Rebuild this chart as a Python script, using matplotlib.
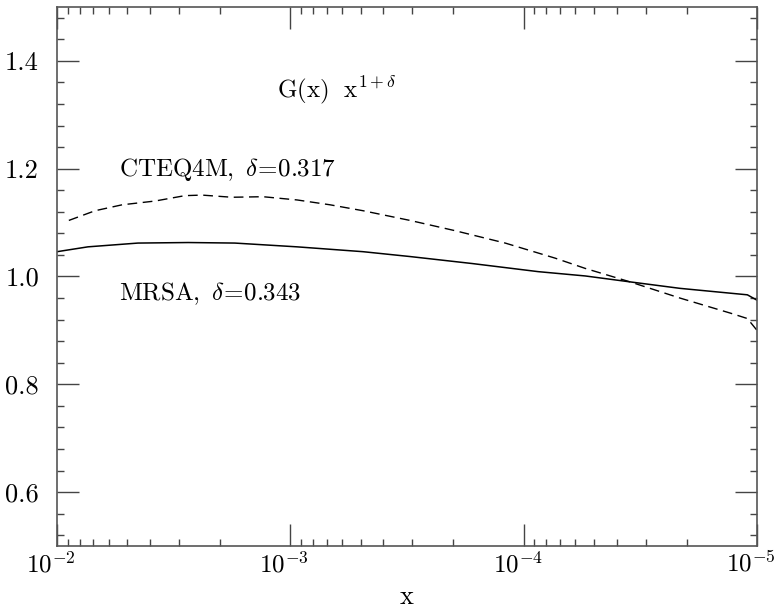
import numpy as np
import matplotlib
matplotlib.use("Agg")
import matplotlib.pyplot as plt
import matplotlib.transforms as mtransforms
from matplotlib.ticker import LogLocator, MultipleLocator, FormatStrFormatter, NullFormatter

plt.rcParams['mathtext.fontset'] = 'cm'
plt.rcParams['font.family'] = ['cmr10', 'DejaVu Serif']
plt.rcParams['axes.formatter.use_mathtext'] = True

# CTEQ4M, delta = 0.317 (dashed)
x_cteq = [8.9e-3, 6.87e-3, 5.26e-3, 3.8e-3, 2.83e-3, 2.39e-3, 1.78e-3, 1.31e-3,
          9.36e-4, 6.76e-4, 4.88e-4, 3.07e-4, 1.97e-4, 1.20e-4, 7.33e-5, 5.45e-5,
          3.50e-5, 2.14e-5, 1.30e-5, 1.10e-5, 1.0e-5]
g_cteq = [1.104, 1.122, 1.133, 1.140, 1.150, 1.151, 1.147, 1.148,
          1.142, 1.133, 1.122, 1.104, 1.085, 1.062, 1.034, 1.015,
          0.990, 0.960, 0.932, 0.922, 0.900]

# MRSA, delta = 0.343 (solid)
x_mrsa = [1.0e-2, 7.37e-3, 4.50e-3, 2.74e-3, 1.73e-3, 9.36e-4, 4.88e-4, 3.07e-4,
          1.66e-4, 8.67e-5, 5.45e-5, 3.50e-5, 2.14e-5, 1.30e-5, 1.10e-5, 1.0e-5]
g_mrsa = [1.046, 1.055, 1.062, 1.063, 1.062, 1.055, 1.046, 1.037,
          1.024, 1.009, 1.001, 0.990, 0.978, 0.969, 0.966, 0.956]

fig = plt.figure(figsize=(7.79, 6.07), dpi=100)
ax = fig.add_axes([0.0732, 0.1005, 0.8986, 0.888])

ax.plot(x_mrsa, g_mrsa, color='black', lw=1.1)
ax.plot(x_cteq, g_cteq, color='black', lw=1.0, dashes=(7, 4))

ax.set_xscale('log')
ax.set_xlim(1e-2, 1e-5)
ax.set_ylim(0.5, 1.5)

ax.xaxis.set_major_locator(LogLocator(base=10, numticks=10))
ax.xaxis.set_minor_locator(LogLocator(base=10, subs=np.arange(2, 10), numticks=20))
ax.xaxis.set_minor_formatter(NullFormatter())
ax.yaxis.set_major_locator(MultipleLocator(0.2))
ax.yaxis.set_minor_locator(MultipleLocator(0.04))
ax.yaxis.set_major_formatter(FormatStrFormatter('%.1f'))

ax.tick_params(which='both', direction='in', top=True, right=True,
               color='#444444')
ax.tick_params(which='major', length=16, width=1.0)
ax.tick_params(which='minor', length=5, width=1.0)
ax.tick_params(axis='x', which='major', labelsize=18, pad=4)
ax.tick_params(axis='y', which='major', labelsize=19, pad=13)
for s in ax.spines.values():
    s.set_color('#555555')
    s.set_linewidth(1.2)

# the decade labels sit a little left of their ticks
shift = mtransforms.ScaledTranslation(-6 / 100, 0, fig.dpi_scale_trans)
for lab in ax.get_xticklabels():
    lab.set_transform(lab.get_transform() + shift)

ax.set_xlabel(r'$\mathrm{x}$', fontsize=19)
ax.xaxis.set_label_coords(0.5, -0.072)

ax.text(6.3e-4, 1.346, r'$\mathrm{G(x)\ \ x}^{1+\delta}$', fontsize=18,
        ha='center', va='center')
ax.text(5.4e-3, 1.198, r'$\mathrm{CTEQ4M,}\ \delta\!=\!0.317$', fontsize=18,
        ha='left', va='center')
ax.text(5.4e-3, 0.969, r'$\mathrm{MRSA,}\ \delta\!=\!0.343$', fontsize=18,
        ha='left', va='center')

fig.savefig('out.png', dpi=100)
